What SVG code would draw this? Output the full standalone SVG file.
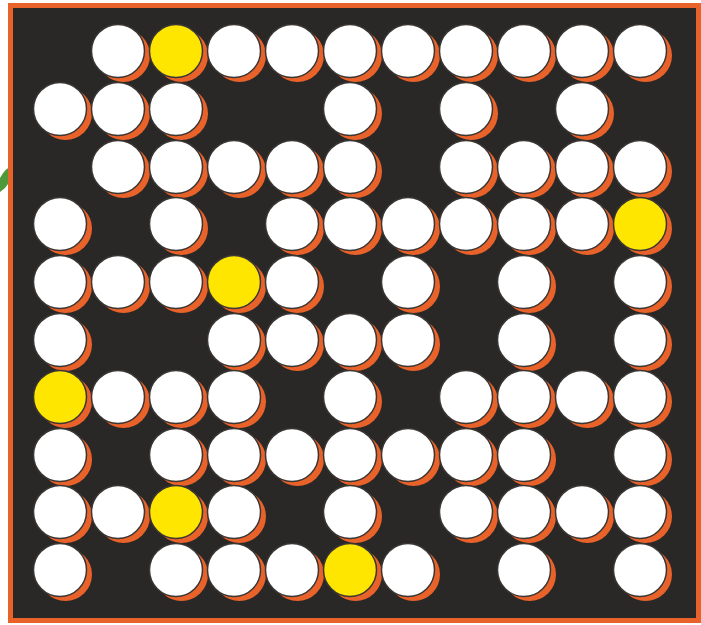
<svg xmlns="http://www.w3.org/2000/svg" xmlns:xlink="http://www.w3.org/1999/xlink" width="701" height="625" viewBox="0 0 701 625">
<style>
.sh{fill:#e8622a}
.w{fill:#ffffff;stroke:#3a3634;stroke-width:1.5}
.y{fill:#ffe600;stroke:#3a3634;stroke-width:1.5}
</style>
<defs>
<g id="dotW"><circle class="sh" cx="5.5" cy="4.5" r="26.5"/><circle class="w" cx="0" cy="0" r="26.5"/></g>
<g id="dotY"><circle class="sh" cx="5.5" cy="4.5" r="26.5"/><circle class="y" cx="0" cy="0" r="26.5"/></g>
</defs>
<rect x="0" y="0" width="701" height="625" fill="#ffffff"/>
<path d="M0,178 Q8,164 14,168 Q12,184 0,192 Z" fill="#4e9a3a"/>
<rect id="board" x="10.5" y="5.5" width="688" height="615" fill="#2a2826" stroke="#e8622a" stroke-width="5"/>
<g id="dots">
<g id="r0">
<use href="#dotW" x="118" y="51"/><use href="#dotY" x="176" y="51"/><use href="#dotW" x="234" y="51"/><use href="#dotW" x="292" y="51"/><use href="#dotW" x="350" y="51"/><use href="#dotW" x="408" y="51"/><use href="#dotW" x="466" y="51"/><use href="#dotW" x="524" y="51"/><use href="#dotW" x="582" y="51"/><use href="#dotW" x="640" y="51"/>
</g>
<g id="r1">
<use href="#dotW" x="60" y="109"/><use href="#dotW" x="118" y="109"/><use href="#dotW" x="176" y="109"/><use href="#dotW" x="350" y="109"/><use href="#dotW" x="466" y="109"/><use href="#dotW" x="582" y="109"/>
</g>
<g id="r2">
<use href="#dotW" x="118" y="167"/><use href="#dotW" x="176" y="167"/><use href="#dotW" x="234" y="167"/><use href="#dotW" x="292" y="167"/><use href="#dotW" x="350" y="167"/><use href="#dotW" x="466" y="167"/><use href="#dotW" x="524" y="167"/><use href="#dotW" x="582" y="167"/><use href="#dotW" x="640" y="167"/>
</g>
<g id="r3">
<use href="#dotW" x="60" y="224"/><use href="#dotW" x="176" y="224"/><use href="#dotW" x="292" y="224"/><use href="#dotW" x="350" y="224"/><use href="#dotW" x="408" y="224"/><use href="#dotW" x="466" y="224"/><use href="#dotW" x="524" y="224"/><use href="#dotW" x="582" y="224"/><use href="#dotY" x="640" y="224"/>
</g>
<g id="r4">
<use href="#dotW" x="60" y="282"/><use href="#dotW" x="118" y="282"/><use href="#dotW" x="176" y="282"/><use href="#dotY" x="234" y="282"/><use href="#dotW" x="292" y="282"/><use href="#dotW" x="408" y="282"/><use href="#dotW" x="524" y="282"/><use href="#dotW" x="640" y="282"/>
</g>
<g id="r5">
<use href="#dotW" x="60" y="340"/><use href="#dotW" x="234" y="340"/><use href="#dotW" x="292" y="340"/><use href="#dotW" x="350" y="340"/><use href="#dotW" x="408" y="340"/><use href="#dotW" x="524" y="340"/><use href="#dotW" x="640" y="340"/>
</g>
<g id="r6">
<use href="#dotY" x="60" y="397"/><use href="#dotW" x="118" y="397"/><use href="#dotW" x="176" y="397"/><use href="#dotW" x="234" y="397"/><use href="#dotW" x="350" y="397"/><use href="#dotW" x="466" y="397"/><use href="#dotW" x="524" y="397"/><use href="#dotW" x="582" y="397"/><use href="#dotW" x="640" y="397"/>
</g>
<g id="r7">
<use href="#dotW" x="60" y="455"/><use href="#dotW" x="176" y="455"/><use href="#dotW" x="234" y="455"/><use href="#dotW" x="292" y="455"/><use href="#dotW" x="350" y="455"/><use href="#dotW" x="408" y="455"/><use href="#dotW" x="466" y="455"/><use href="#dotW" x="524" y="455"/><use href="#dotW" x="640" y="455"/>
</g>
<g id="r8">
<use href="#dotW" x="60" y="512"/><use href="#dotW" x="118" y="512"/><use href="#dotY" x="176" y="512"/><use href="#dotW" x="234" y="512"/><use href="#dotW" x="350" y="512"/><use href="#dotW" x="466" y="512"/><use href="#dotW" x="524" y="512"/><use href="#dotW" x="582" y="512"/><use href="#dotW" x="640" y="512"/>
</g>
<g id="r9">
<use href="#dotW" x="60" y="570"/><use href="#dotW" x="176" y="570"/><use href="#dotW" x="234" y="570"/><use href="#dotW" x="292" y="570"/><use href="#dotY" x="350" y="570"/><use href="#dotW" x="408" y="570"/><use href="#dotW" x="524" y="570"/><use href="#dotW" x="640" y="570"/>
</g>
</g>
</svg>
